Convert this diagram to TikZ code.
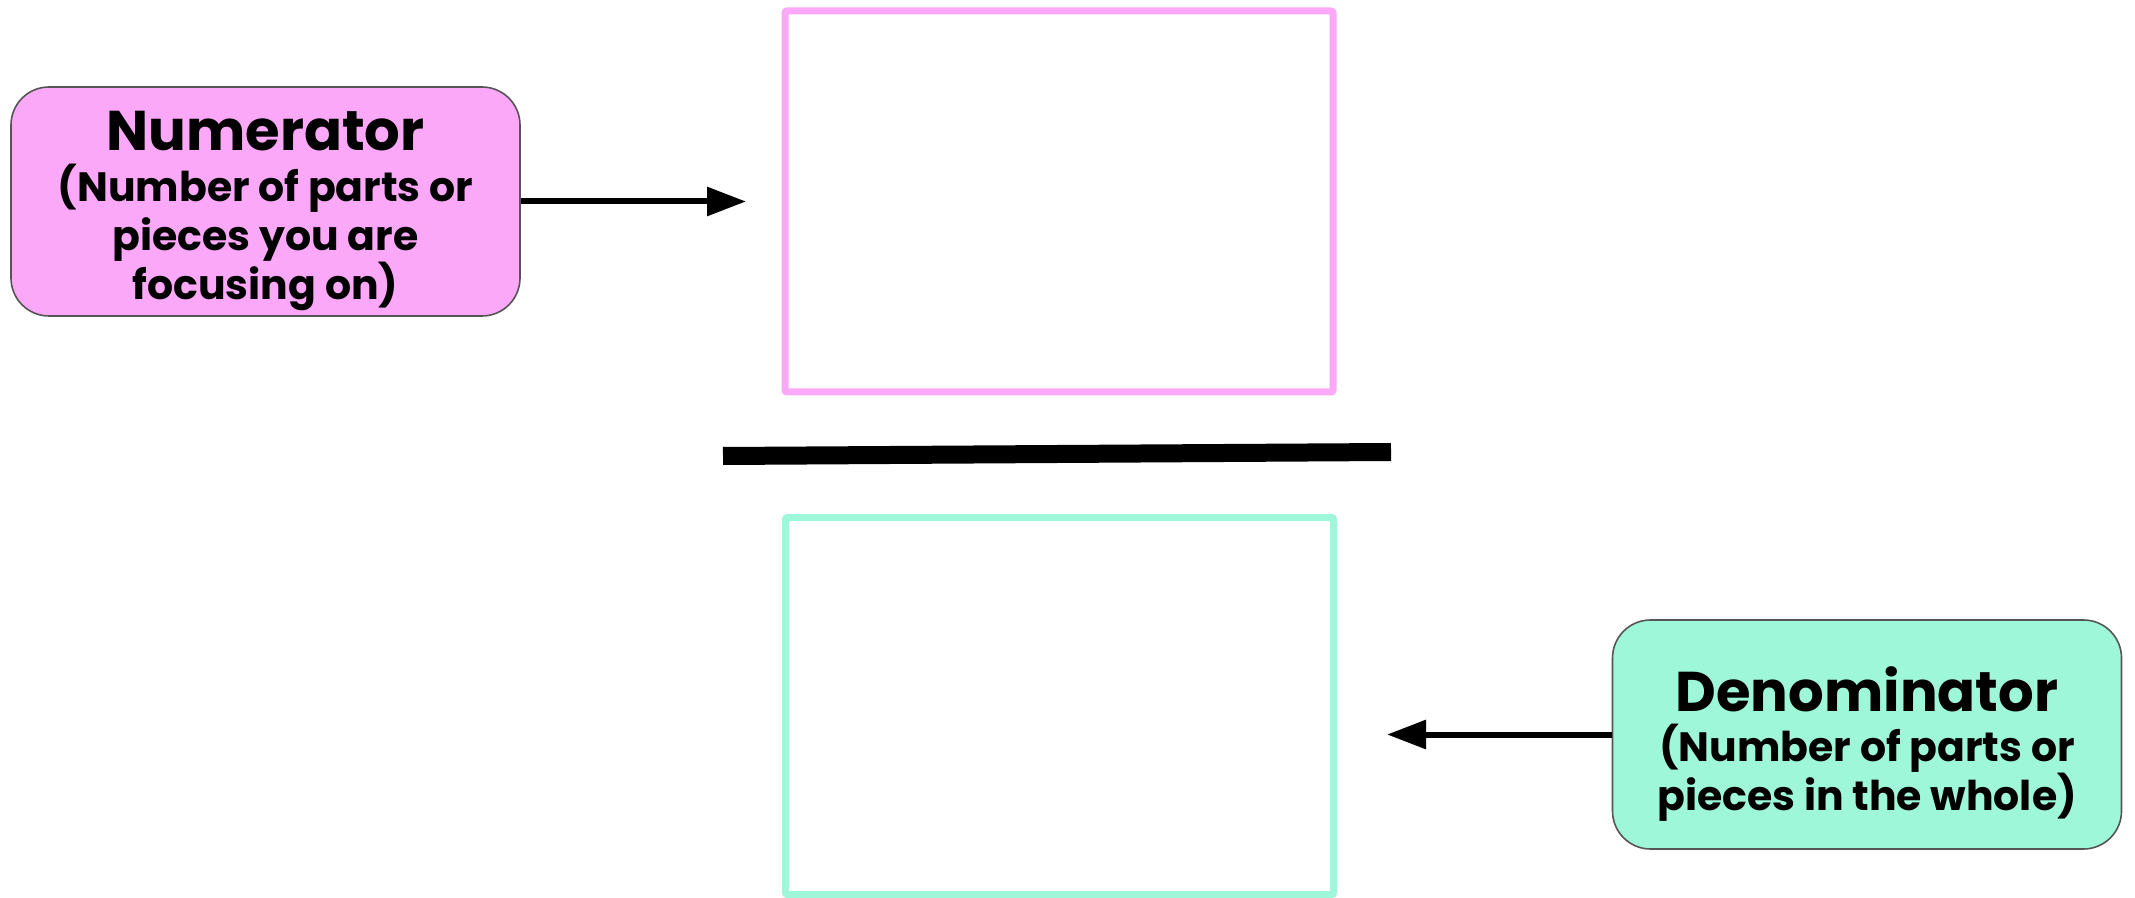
\documentclass[tikz,border=0pt]{standalone}
\usepackage{fontspec}
\setmainfont{Poppins}
\usetikzlibrary{arrows.meta}
\definecolor{pinkc}{HTML}{FCA8F8}
\definecolor{tealc}{HTML}{9EF7D9}
\definecolor{edgec}{HTML}{555555}
\begin{document}
\begin{tikzpicture}[x=0.5pt,y=-0.5pt,
 labelbox/.style={draw=edgec, line width=0.8pt, rounded corners=19pt, minimum width=254.5pt, minimum height=114.5pt, inner sep=0pt},
 framebox/.style={line width=3.5pt, rounded corners=1pt, inner sep=0pt, minimum width=274pt},
 pointer/.style={line width=3pt, -{Triangle[length=19.5pt,width=14pt]}},
 ttl/.style={font=\bfseries\fontsize{28}{30}\selectfont, inner sep=0pt},
 body/.style={font=\bfseries\fontsize{20.5}{24.5}\selectfont, align=center, inner sep=0pt}
]
\useasboundingbox (0,0) rectangle (2135,898);
% frames
\node[framebox, draw=pinkc, minimum height=190.5pt] (top) at (1059,201.5) {};
\node[framebox, draw=tealc, minimum height=188.5pt] (bottom) at (1059.5,706) {};
% fraction bar
\coordinate (bl) at (723,456);
\coordinate (br) at (1391,452);
\draw[line width=9pt] (bl) -- (br);
% numerator label
\node[labelbox, fill=pinkc] (num) at (265.5,201.5) {};
\node[ttl] (numt) at (265.5,131) {Numerator};
\node[body] (numb) at (265.5,237) {(Number of parts or\\pieces you are\\focusing on)};
% denominator label
\node[labelbox, fill=tealc] (den) at (1867,734.5) {};
\node[ttl] (dent) at (1867,689) {Denominator};
\node[body] (denb) at (1867,772.5) {(Number of parts or\\pieces in the whole)};
% arrows
\coordinate (ntip) at (746,201.5);
\coordinate (dtip) at (1387,734.5);
\draw[pointer] (num.east) -- (ntip);
\draw[pointer] (den.west) -- (dtip);
\end{tikzpicture}
\end{document}
